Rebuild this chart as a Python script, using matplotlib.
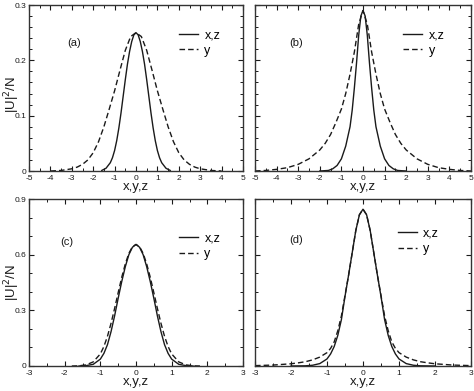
import matplotlib
matplotlib.use("Agg")
import matplotlib.pyplot as plt
from matplotlib.ticker import MultipleLocator

plt.rcParams['font.family'] = ['Liberation Sans', 'DejaVu Sans']

# ---- data ----
# panel (a)
xa_s = [-1.6, -1.4, -1.2, -1.1, -1.0, -0.9, -0.8, -0.7, -0.6, -0.5, -0.4, -0.3, -0.2, -0.1, 0.0,
        0.1, 0.2, 0.3, 0.4, 0.5, 0.6, 0.7, 0.8, 0.9, 1.0, 1.1, 1.2, 1.4, 1.6]
ya_s = [0.001, 0.005, 0.015, 0.024, 0.037, 0.055, 0.078, 0.105, 0.135, 0.165, 0.193, 0.216, 0.234, 0.246, 0.25,
        0.246, 0.234, 0.216, 0.193, 0.165, 0.135, 0.105, 0.078, 0.055, 0.037, 0.024, 0.015, 0.005, 0.001]
xa_d = [-4.0, -3.5, -3.0, -2.75, -2.5, -2.25, -2.0, -1.75, -1.5, -1.25, -1.0, -0.75, -0.5, -0.25, 0.0,
        0.25, 0.5, 0.75, 1.0, 1.25, 1.5, 1.75, 2.0, 2.25, 2.5, 2.75, 3.0, 3.5, 4.0]
ya_d = [0.0, 0.001, 0.004, 0.007, 0.012, 0.02, 0.033, 0.053, 0.08, 0.112, 0.145, 0.182, 0.218, 0.243, 0.25,
        0.243, 0.218, 0.182, 0.145, 0.112, 0.08, 0.053, 0.033, 0.02, 0.012, 0.007, 0.004, 0.001, 0.0]
# panel (b)
xb_s = [-2.0, -1.6, -1.4, -1.2, -1.0, -0.8, -0.6, -0.5, -0.4, -0.3, -0.2, -0.1, 0.0,
        0.1, 0.2, 0.3, 0.4, 0.5, 0.6, 0.8, 1.0, 1.2, 1.4, 1.6, 2.0]
yb_s = [0.0, 0.001, 0.004, 0.01, 0.022, 0.045, 0.08, 0.11, 0.15, 0.195, 0.245, 0.28, 0.29,
        0.28, 0.245, 0.195, 0.15, 0.11, 0.08, 0.045, 0.022, 0.01, 0.004, 0.001, 0.0]
xb_d = [-5.0, -4.5, -4.0, -3.5, -3.0, -2.5, -2.0, -1.75, -1.5, -1.25, -1.0, -0.8, -0.6, -0.4, -0.2, 0.0,
        0.2, 0.4, 0.6, 0.8, 1.0, 1.25, 1.5, 1.75, 2.0, 2.5, 3.0, 3.5, 4.0, 4.5, 5.0]
yb_d = [0.0, 0.001, 0.003, 0.006, 0.012, 0.022, 0.038, 0.05, 0.066, 0.088, 0.112, 0.14, 0.175, 0.215, 0.265, 0.29,
        0.265, 0.215, 0.175, 0.14, 0.112, 0.088, 0.066, 0.05, 0.038, 0.022, 0.012, 0.006, 0.003, 0.001, 0.0]
# panel (c)
xc_s = [-1.6, -1.4, -1.2, -1.0, -0.9, -0.8, -0.7, -0.6, -0.5, -0.4, -0.3, -0.2, -0.1, 0.0,
        0.1, 0.2, 0.3, 0.4, 0.5, 0.6, 0.7, 0.8, 0.9, 1.0, 1.2, 1.4, 1.6]
yc_s = [0.0, 0.002, 0.009, 0.037, 0.068, 0.115, 0.185, 0.27, 0.365, 0.455, 0.535, 0.60, 0.64, 0.655,
        0.64, 0.60, 0.535, 0.455, 0.365, 0.27, 0.185, 0.115, 0.068, 0.037, 0.009, 0.002, 0.0]
xc_d = [-1.8, -1.6, -1.4, -1.2, -1.0, -0.9, -0.8, -0.7, -0.6, -0.5, -0.4, -0.3, -0.2, -0.1, 0.0,
        0.1, 0.2, 0.3, 0.4, 0.5, 0.6, 0.7, 0.8, 0.9, 1.0, 1.2, 1.4, 1.6, 1.8]
yc_d = [0.0, 0.001, 0.006, 0.022, 0.065, 0.105, 0.16, 0.23, 0.31, 0.395, 0.478, 0.55, 0.607, 0.643, 0.655,
        0.643, 0.607, 0.55, 0.478, 0.395, 0.31, 0.23, 0.16, 0.105, 0.065, 0.022, 0.006, 0.001, 0.0]
# panel (d)
xd_s = [-2.0, -1.6, -1.4, -1.2, -1.0, -0.9, -0.8, -0.7, -0.6, -0.5, -0.4, -0.3, -0.2, -0.1, 0.0,
        0.1, 0.2, 0.3, 0.4, 0.5, 0.6, 0.7, 0.8, 0.9, 1.0, 1.2, 1.4, 1.6, 2.0]
yd_s = [0.0, 0.001, 0.004, 0.013, 0.038, 0.065, 0.105, 0.165, 0.25, 0.375, 0.49, 0.61, 0.73, 0.815, 0.845,
        0.815, 0.73, 0.61, 0.49, 0.375, 0.25, 0.165, 0.105, 0.065, 0.038, 0.013, 0.004, 0.001, 0.0]
xd_d = [-3.0, -2.5, -2.0, -1.8, -1.6, -1.4, -1.2, -1.0, -0.9, -0.8, -0.7, -0.6, -0.5, -0.4, -0.3, -0.2, -0.1, 0.0,
        0.1, 0.2, 0.3, 0.4, 0.5, 0.6, 0.7, 0.8, 0.9, 1.0, 1.2, 1.4, 1.6, 1.8, 2.0, 2.5, 3.0]
yd_d = [0.002, 0.005, 0.012, 0.017, 0.023, 0.033, 0.048, 0.072, 0.095, 0.13, 0.19, 0.27, 0.38, 0.49, 0.61, 0.73, 0.815, 0.845,
        0.815, 0.73, 0.61, 0.49, 0.38, 0.27, 0.19, 0.13, 0.095, 0.072, 0.048, 0.033, 0.023, 0.017, 0.012, 0.005, 0.002]

panel_labels = ['(a)', '(b)', '(c)', '(d)']
legend_labels = ['x,z', 'y']
xlabel_text = 'x,y,z'
ylabel_text = r'|U|$^2$/N'

# ---- layout ----
W, H = 474, 391
fig = plt.figure(figsize=(W / 100, H / 100), dpi=100)

def frac(l, r, t, b):
    return [l / W, 1 - b / H, (r - l) / W, (b - t) / H]

axes = [
    fig.add_axes(frac(29, 243, 5, 171)),
    fig.add_axes(frac(255, 471, 5, 171)),
    fig.add_axes(frac(29, 243, 199, 366)),
    fig.add_axes(frac(255, 471, 199, 366)),
]

data = [(xa_s, ya_s, xa_d, ya_d), (xb_s, yb_s, xb_d, yb_d),
        (xc_s, yc_s, xc_d, yc_d), (xd_s, yd_s, xd_d, yd_d)]
xlims = [(-5, 5), (-5, 5), (-3, 3), (-3, 3)]
ylims = [(0, 0.3), (0, 0.3), (0, 0.9), (0, 0.9)]
ymaj = [0.1, 0.1, 0.3, 0.3]
ymin = [0.02, 0.02, 0.1, 0.1]
lab_pos = [(0.18, 0.77), (0.16, 0.77), (0.145, 0.74), (0.16, 0.755)]
leg_pos = [(0.70, 0.855), (0.685, 0.855), (0.70, 0.80), (0.66, 0.83)]
ylab_y = [0.46, None, 0.50, None]

ink = '#1a1a1a'
for i, ax in enumerate(axes):
    xs, ys, xd, yd = data[i]
    ax.plot(xs, ys, color=ink, lw=1.0, label=legend_labels[0])
    ax.plot(xd, yd, color=ink, lw=1.0, dashes=(4.0, 2.2), label=legend_labels[1])
    ax.set_xlim(*xlims[i])
    ax.set_ylim(*ylims[i])
    ax.xaxis.set_major_locator(MultipleLocator(1))
    ax.xaxis.set_minor_locator(MultipleLocator(0.5))
    ax.yaxis.set_major_locator(MultipleLocator(ymaj[i]))
    ax.yaxis.set_minor_locator(MultipleLocator(ymin[i]))
    ax.tick_params(which='both', direction='in', top=True, right=True,
                   labelsize=6.0, colors=ink)
    ax.tick_params(axis='x', which='both', pad=2.6)
    ax.tick_params(axis='y', which='both', pad=1.8)
    ax.tick_params(which='major', length=3.5, width=0.8)
    ax.tick_params(which='minor', length=2.0, width=0.7)
    for s in ax.spines.values():
        s.set_linewidth(1.0)
        s.set_color('#333333')
    ax.xaxis.set_major_formatter(plt.FuncFormatter(lambda v, p: f'{v:g}'))
    if i in (0, 2):
        ax.yaxis.set_major_formatter(plt.FuncFormatter(lambda v, p: f'{v:g}'))
        ax.set_ylabel(ylabel_text, fontsize=9.5, color=ink)
        ax.yaxis.set_label_coords(-0.032, ylab_y[i])
    else:
        ax.tick_params(labelleft=False)
    ax.set_xlabel(xlabel_text, fontsize=9.5, color=ink)
    ax.xaxis.set_label_coords(0.5, -0.062)
    ax.text(lab_pos[i][0], lab_pos[i][1], panel_labels[i], transform=ax.transAxes,
            fontsize=8, va='center', ha='left', color=ink)
    ax.legend(loc='upper left', bbox_to_anchor=leg_pos[i], frameon=False,
              fontsize=9, handlelength=1.55, handletextpad=0.5, labelspacing=0.3,
              borderpad=0, borderaxespad=0)

fig.savefig('out.png', dpi=100)
